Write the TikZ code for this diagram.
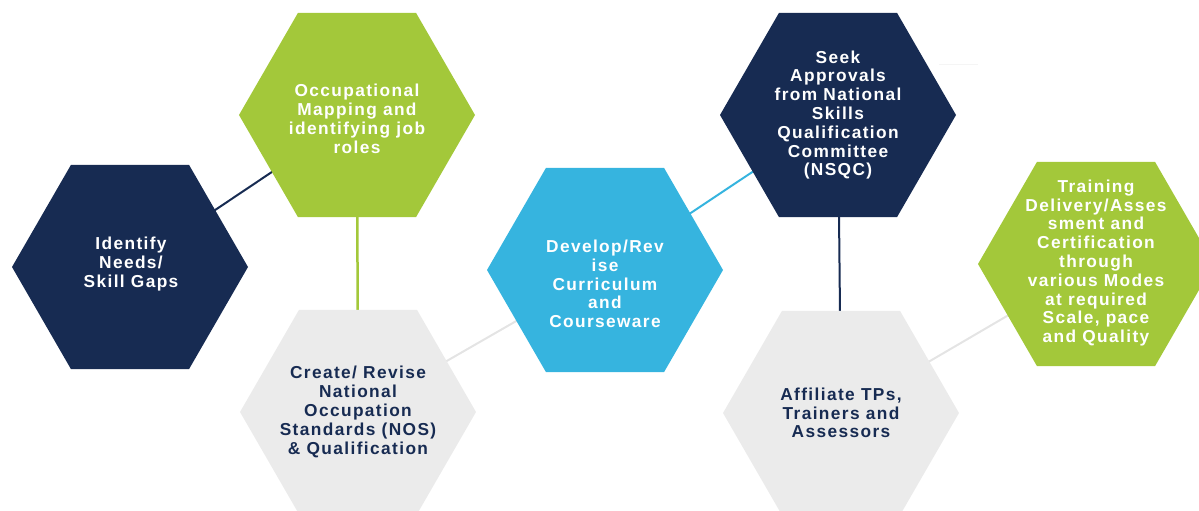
\documentclass[tikz,border=0pt]{standalone}
\usepackage{fontspec}
\setmainfont{Liberation Sans}[LetterSpace=8]
\usetikzlibrary{shapes.geometric,backgrounds}

\definecolor{navyFill}{RGB}{23,43,82}
\definecolor{greenFill}{RGB}{163,200,58}
\definecolor{cyanFill}{RGB}{54,180,223}
\definecolor{greyFill}{RGB}{235,235,235}
\definecolor{greyLine}{RGB}{228,228,228}

\begin{document}
\begin{tikzpicture}[
		x=1pt, y=-1pt,
		hex/.style={regular polygon, regular polygon sides=6, minimum size=236pt, inner sep=0pt, draw=none},
		link line/.style={line width=2pt},
		every node/.style={font=\bfseries\fontsize{17.3}{18.8}\selectfont, align=center, inner sep=0pt},
		]
		\tikzset{
			navyHex/.style={hex, fill=navyFill},
			greenHex/.style={hex, fill=greenFill},
			cyanHex/.style={hex, fill=cyanFill},
			greyHex/.style={hex, fill=greyFill},
			lightText/.style={text=white},
			darkText/.style={text=navyFill},
		}
		\useasboundingbox (0,0) rectangle (1199,511);
		\clip (0,0) rectangle (1199,511);
		
		\node[navyHex] (needs) at (130,267) {};
		\node[greenHex] (mapping) at (357,115) {};
		\node[greyHex] (nos) at (358,412) {};
		\node[cyanHex] (curriculum) at (605,270) {};
		\node[navyHex] (nsqc) at (838,115) {};
		\node[greyHex] (affiliate) at (841,413) {};
		\node[greenHex] (delivery) at (1096,264) {};
		
		\node[lightText] (needsText) at (131,264) {Identify\\Needs/\\Skill Gaps};
		\node[lightText] (mappingText) at (357,119) {Occupational\\Mapping and\\identifying job\\roles};
		\node[darkText] (nosText) at (nos) {Create/ Revise\\National\\Occupation\\Standards (NOS)\\\& Qualification};
		\node[lightText] (curriculumText) at (605,284) {Develop/Rev\\ise\\Curriculum\\and\\Courseware};
		\node[lightText] (nsqcText) at (nsqc) {Seek\\Approvals\\from National\\Skills\\Qualification\\Committee\\(NSQC)};
		\node[darkText] (affiliateText) at (affiliate) {Affiliate TPs,\\Trainers and\\Assessors};
		\node[lightText] (deliveryText) at (1096,263) {Training\\Delivery/Asses\\sment and\\Certification\\through\\various Modes\\at required\\Scale, pace\\and Quality};
		
		\begin{pgfonlayer}{background}
			\draw[link line, navyFill] (needs.center) -- (mapping.center);
			\draw[link line, greenFill, line width=2.5pt] (mapping.center) -- (nos.center);
			\draw[link line, greyLine] (nos.center) -- (curriculum.center);
			\draw[link line, cyanFill] (curriculum.center) -- (nsqc.center);
			\draw[link line, navyFill] (nsqc.center) -- (affiliate.center);
			\draw[link line, greyLine] (affiliate.center) -- (delivery.center);
		\end{pgfonlayer}
		
		% faint stroke right of the NSQC hexagon
		\coordinate (faintStart) at (939,64);
		\coordinate (faintEnd) at (978,64);
		\draw[greyFill!50, line width=0.8pt] (faintStart) -- (faintEnd);
	\end{tikzpicture}
\end{document}
